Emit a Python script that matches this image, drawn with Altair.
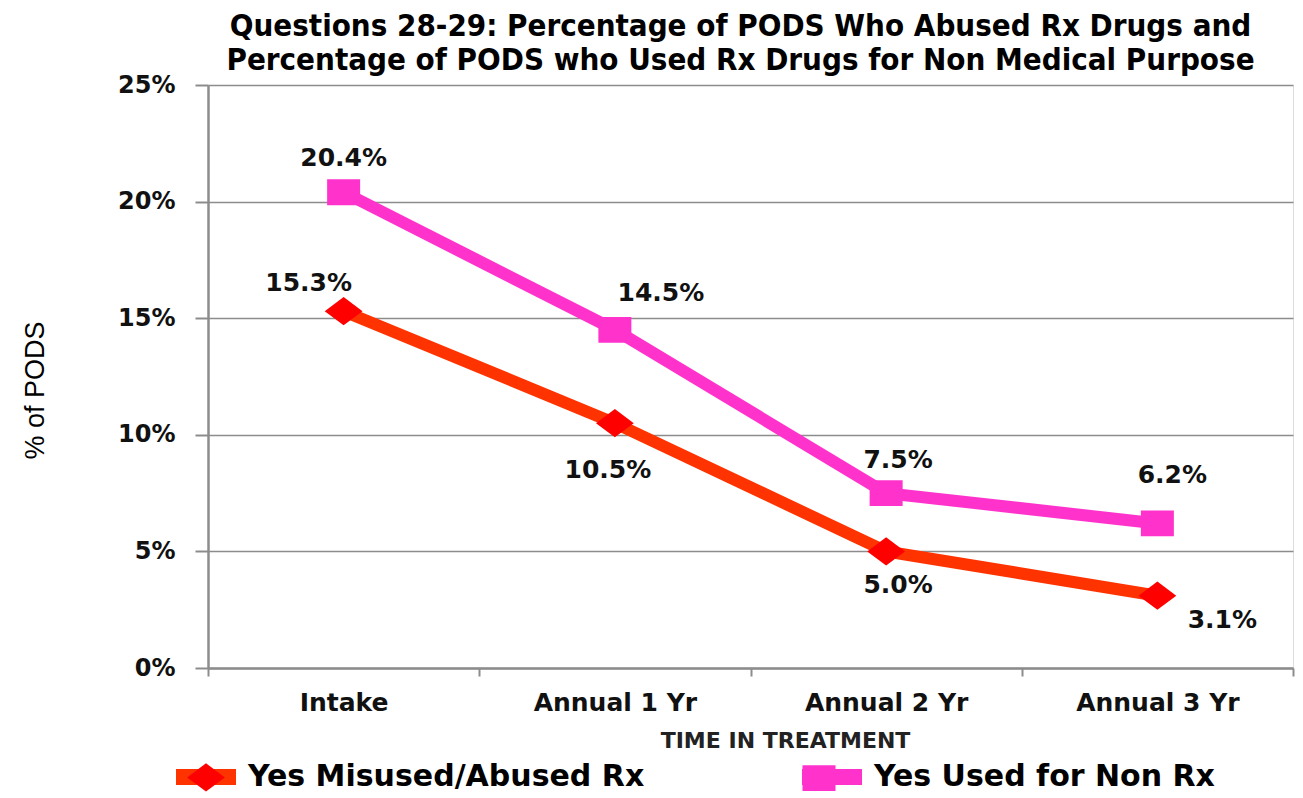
import altair as alt
import pandas as pd

# ---------------- data ----------------
CATEGORIES = ["Intake", "Annual 1 Yr", "Annual 2 Yr", "Annual 3 Yr"]
SERIES = ["Yes Misused/Abused Rx", "Yes Used for Non Rx"]
MISUSED = [15.3, 10.5, 5.0, 3.1]
NON_RX = [20.4, 14.5, 7.5, 6.2]
Y_TICKS = [0, 5, 10, 15, 20, 25]
TITLE_LINES = [
    "Questions 28-29:  Percentage of PODS Who Abused Rx Drugs and",
    "Percentage of PODS who Used Rx Drugs for Non Medical Purpose",
]
Y_TITLE = "% of PODS"
X_TITLE = "TIME IN TREATMENT"

# ---------------- styles ----------------
LINE_COLORS = ["#FF3300", "#FF33CC"]
MARKER_COLORS = ["#FF0000", "#FF33CC"]
DIAMOND = "M-0.63,0L0,-0.47L0.63,0L0,0.47Z"
SQUARE = "M-0.55,-0.43L0.55,-0.43L0.55,0.43L-0.55,0.43Z"
# label offsets (dx, dy) per series, per point
LABEL_OFFSETS = {
    SERIES[0]: [(-35, -28), (-7, 47), (12, 34), (65, 24)],
    SERIES[1]: [(0, -34), (46, -37), (12, -33), (15, -48)],
}
GRID = "#8c8c8c"
BOLD_FONT = "DejaVu Sans"
SYMBOL_SIZE = 3600

rows = []
for s, vals in zip(SERIES, [MISUSED, NON_RX]):
    for i, (c, v) in enumerate(zip(CATEGORIES, vals)):
        rows.append({"series": s, "series_pt": s, "time": c, "value": v, "idx": i})
df = pd.DataFrame(rows)

base = alt.Chart(df)

x = alt.X(
    "time:N",
    sort=CATEGORIES,
    title=X_TITLE,
    scale=alt.Scale(type="band", paddingInner=0, paddingOuter=0),
    axis=alt.Axis(
        labelAngle=0,
        labelFont=BOLD_FONT,
        labelFontWeight="bold",
        labelFontSize=25,
        labelColor="#111111",
        labelPadding=14,
        tickBand="extent",
        tickSize=8,
        tickWidth=2,
        tickColor=GRID,
        domainColor=GRID,
        domainWidth=2.5,
        grid=False,
        titleFont=BOLD_FONT,
        titleFontWeight="bold",
        titleFontSize=22,
        titleColor="#222222",
        titleX=577,
        titleY=72,
        titleAlign="center",
        titleBaseline="middle",
    ),
)
y = alt.Y(
    "value:Q",
    title=Y_TITLE,
    scale=alt.Scale(domain=[0, 25], nice=False),
    axis=alt.Axis(
        values=Y_TICKS,
        labelExpr="datum.value + '%'",
        labelFont=BOLD_FONT,
        labelFontWeight="bold",
        labelFontSize=24,
        labelColor="#111111",
        labelPadding=20,
        tickSize=13,
        tickWidth=2,
        tickColor=GRID,
        domainColor=GRID,
        domainWidth=2.5,
        grid=True,
        gridColor=GRID,
        gridWidth=1.5,
        titleFont="Liberation Sans",
        titleFontWeight="normal",
        titleFontSize=27,
        titleColor="#000000",
        titleAngle=270,
        titleX=-173,
        titleY=305,
        titleAlign="center",
        titleBaseline="middle",
    ),
)

leg_common = dict(
    orient="none",
    legendX=-40,
    legendY=654,
    direction="horizontal",
    title=None,
    labelFont=BOLD_FONT,
    labelFontWeight="bold",
    labelFontSize=30,
    labelColor="#000000",
    labelLimit=800,
    labelOffset=4,
    symbolSize=SYMBOL_SIZE,
    symbolStrokeWidth=16,
    columnPadding=125,
    padding=0,
)
leg_bar = alt.Legend(symbolType="M-1,0L1,0", **leg_common)
leg_marker = alt.Legend(labelOpacity=0, symbolStrokeColor="transparent", **leg_common)

lines = base.mark_line(strokeWidth=12).encode(
    x=x,
    y=y,
    color=alt.Color("series:N", scale=alt.Scale(domain=SERIES, range=LINE_COLORS), legend=leg_bar),
)

points = base.mark_point(filled=True, size=SYMBOL_SIZE, opacity=1, strokeWidth=0).encode(
    x=x,
    y=y,
    fill=alt.Fill("series_pt:N", scale=alt.Scale(domain=SERIES, range=MARKER_COLORS), legend=leg_marker),
    shape=alt.Shape("series_pt:N", scale=alt.Scale(domain=SERIES, range=[DIAMOND, SQUARE]), legend=leg_marker),
)

texts = []
for s in SERIES:
    for i, (dx, dy) in enumerate(LABEL_OFFSETS[s]):
        t = (
            base.transform_filter((alt.datum.series == s) & (alt.datum.idx == i))
            .transform_calculate(label="format(datum.value, '.1f') + '%'")
            .mark_text(
                dx=dx,
                dy=dy,
                font=BOLD_FONT,
                fontWeight="bold",
                fontSize=25,
                color="#111111",
                align="center",
                baseline="middle",
            )
            .encode(x=x, y=y, text="label:N")
        )
        texts.append(t)

chart = (
    alt.layer(lines, points, *texts)
    .properties(
        width=1085,
        height=583,
        autosize=alt.AutoSizeParams(type="none"),
        padding={"left": 200, "top": 77, "right": 2, "bottom": 127},
        title=alt.TitleParams(
            TITLE_LINES,
            font="DejaVu Sans Condensed",
            fontWeight="bold",
            fontSize=31,
            lineHeight=34,
            color="#000000",
            anchor="middle",
            frame="group",
            offset=12,
            dx=-10,
            dy=16,
        ),
    )
    .resolve_scale(color="independent", fill="independent", shape="independent")
    .configure_view(stroke=None)
    .configure(background="white")
)

chart.save("out.html", embed_options={"renderer": "svg", "actions": False})
